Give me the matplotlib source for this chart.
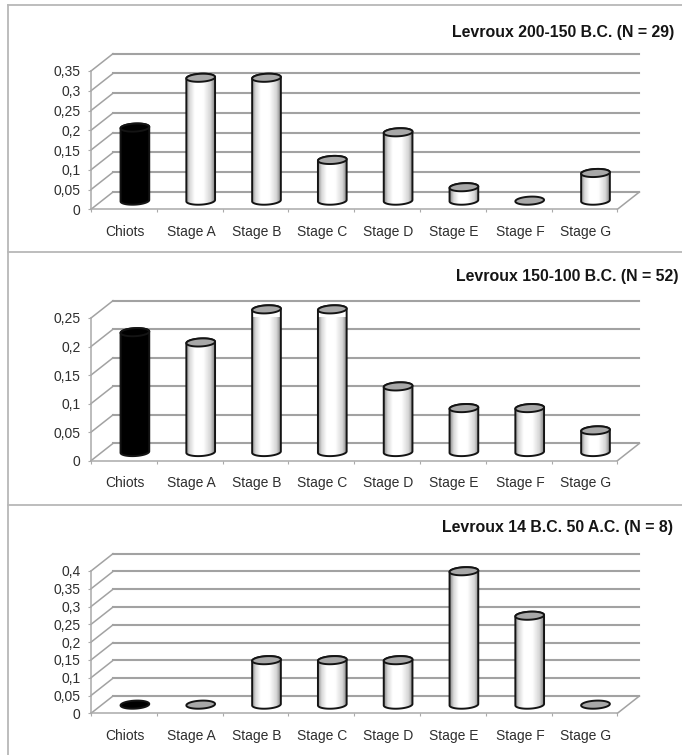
import numpy as np
import matplotlib
matplotlib.use("Agg")
import matplotlib.pyplot as plt
from matplotlib.colors import LinearSegmentedColormap
from matplotlib.lines import Line2D
from matplotlib.patches import Polygon

plt.rcParams['font.family'] = ['Liberation Sans', 'DejaVu Sans']

categories = ["Chiots", "Stage A", "Stage B", "Stage C", "Stage D", "Stage E", "Stage F", "Stage G"]

values_1 = [0.185, 0.311, 0.311, 0.103, 0.173, 0.034, 0, 0.07]
values_2 = [0.21, 0.192, 0.25, 0.25, 0.115, 0.077, 0.077, 0.038]
values_3 = [0, 0, 0.125, 0.125, 0.125, 0.375, 0.25, 0]

titles = ["Levroux 200-150 B.C. (N = 29)", "Levroux 150-100 B.C. (N = 52)", "Levroux 14 B.C. 50 A.C. (N = 8)"]
y_max = [0.35, 0.25, 0.4]
y_labels_1 = ["0", "0,05", "0,1", "0,15", "0,2", "0,25", "0,3", "0,35"]
y_labels_2 = ["0", "0,05", "0,1", "0,15", "0,2", "0,25"]
y_labels_3 = ["0", "0,05", "0,1", "0,15", "0,2", "0,25", "0,3", "0,35", "0,4"]

W, H = 682, 755
X0, CAT_W = 91, 65.8        # pixels: left end of the floor, width of one category
DEPTH_X, DEPTH_Y = 22, 17.3  # pixels: how far the back wall is shifted
BAR_W, ELL_H = 28.7, 8.0     # pixels: cylinder size
TILT = 0.05                  # ellipses rise a little to the right

GRID = "#a2a2a2"
FRAME = "#b8b8b8"
shade = LinearSegmentedColormap.from_list("cyl", [
    (0, "#8f8f8f"), (0.12, "#d8d8d8"), (0.3, "#ffffff"), (0.6, "#ffffff"), (0.85, "#d6d6d6"), (1, "#858585")])


def ellipse_xy(xc, yc, w, h, t):
    # tilted ellipse, in data units
    x = xc + w / 2 * np.cos(t)
    y = yc + h / 2 * np.sin(t) + TILT * h / ELL_H * BAR_W * np.cos(t) / 2
    return x, y


def draw_cylinder(ax, xc, yc, value, w, h, black):
    dark = "#141414"
    t_all = np.linspace(0, 2 * np.pi, 80)
    if value > 0:
        t_low = np.linspace(np.pi, 2 * np.pi, 40)
        t_up = np.linspace(0, np.pi, 40)
        xb, yb = ellipse_xy(xc, yc, w, h, t_low)
        xt, yt = ellipse_xy(xc, yc + value, w, h, t_up)
        side = np.column_stack([np.r_[xb, xt], np.r_[yb, yt]])
        poly = Polygon(side, closed=True, facecolor="none", edgecolor=dark, lw=1.4, zorder=4, clip_on=False)
        ax.add_patch(poly)
        if black:
            poly.set_facecolor("black")
        else:
            img = ax.imshow(np.linspace(0, 1, 64).reshape(1, -1), cmap=shade, aspect="auto", zorder=3,
                            extent=(xc - w / 2, xc + w / 2, yc - h, yc + value + h))
            # the image may stick out above the top tick, so only the cylinder clips it
            img.set_clip_box(None)
            img.set_clip_path(Polygon(side, closed=True, transform=ax.transData))
    xe, ye = ellipse_xy(xc, yc + value, w, h, t_all)
    face = "black" if black else "#a8a8a8"
    ax.add_patch(Polygon(np.column_stack([xe, ye]), closed=True, facecolor=face, edgecolor=dark, lw=1.4,
                         zorder=5, clip_on=False))


def plot_panel(values, y_labels, top_value, y_zero, y_top, title, title_right, title_y):
    # y_zero and y_top: pixel rows of 0 and of the top tick on the front axis
    left = X0 / W
    width = 8 * CAT_W / W
    bottom = 1 - y_zero / H
    height = (y_zero - y_top) / H
    ax = plt.gcf().add_axes([left, bottom, width, height])
    ax.patch.set_visible(False)

    per_px = top_value / (y_zero - y_top)
    dx = DEPTH_X / CAT_W
    dy = DEPTH_Y * per_px
    ticks = np.arange(len(y_labels)) * 0.05

    # back wall lines and the slanted lines on the side wall
    for v in ticks:
        ax.plot([dx, 8 + dx], [v + dy, v + dy], color=GRID, lw=1.5, zorder=1, clip_on=False)
        ax.plot([0, dx], [v, v + dy], color=GRID, lw=1.1, zorder=1, clip_on=False)
    ax.plot([8, 8 + dx], [0, dy], color=GRID, lw=1.1, zorder=1, clip_on=False)

    w = BAR_W / CAT_W
    h = ELL_H * per_px
    for i, val in enumerate(values):
        draw_cylinder(ax, i + 0.5 + dx / 2, dy / 2, val, w, h, i == 0)

    ax.set_xlim(0, 8)
    ax.set_ylim(0, top_value)
    for name in ["top", "right"]:
        ax.spines[name].set_visible(False)
    for name in ["left", "bottom"]:
        ax.spines[name].set_color("#aaaaaa")
        ax.spines[name].set_linewidth(1.1)

    ax.set_xticks(np.arange(9))
    ax.set_xticklabels([])
    ax.set_xticks(np.arange(8) + 0.52, categories, minor=True)
    ax.tick_params(axis="x", which="major", length=2.5, color="#aaaaaa")
    ax.tick_params(axis="x", which="minor", length=0, pad=11, labelsize=10, labelcolor="#2e2e2e")
    ax.set_yticks(ticks, y_labels)
    ax.tick_params(axis="y", length=2, color="#aaaaaa", pad=5.5, labelsize=10, labelcolor="#2e2e2e")

    plt.gcf().text(title_right / W, 1 - title_y / H, title, ha="right", va="center",
                   fontsize=11.4, fontweight="bold", color="#151515")


def main():
    fig = plt.figure(figsize=(W / 100, H / 100), dpi=100)

    # panel frames
    for y in [5, 252, 505]:
        fig.add_artist(Line2D([8 / W, 1], [1 - y / H, 1 - y / H], color=FRAME, lw=1.3))
    fig.add_artist(Line2D([8 / W, 8 / W], [1 - 5 / H, 0], color=FRAME, lw=1.3))

    plot_panel(values_1, y_labels_1, y_max[0], 209.3, 71, titles[0], 674, 32.7)
    plot_panel(values_2, y_labels_2, y_max[1], 460.7, 318, titles[1], 678, 276)
    plot_panel(values_3, y_labels_3, y_max[2], 713.3, 571, titles[2], 673, 527.7)

    fig.savefig("out.png", dpi=100)


if __name__ == "__main__":
    main()
